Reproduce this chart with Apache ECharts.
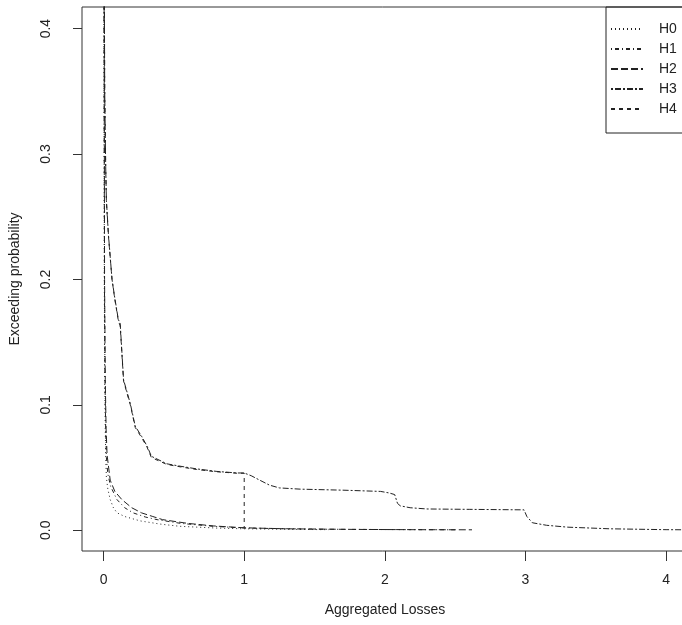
<!DOCTYPE html>
<html>
<head>
<meta charset="utf-8">
<script src="https://cdn.jsdelivr.net/npm/echarts@6/dist/echarts.min.js"></script>
<style>html,body{margin:0;padding:0;background:#fff}#c{width:682px;height:625px}</style>
</head>
<body>
<div id="c"></div>
<script>
const seriesNames = ['H0', 'H1', 'H2', 'H3', 'H4'];
const xTicks = [0, 1, 2, 3, 4];
const yTicks = [0, 0.1, 0.2, 0.3, 0.4];

const h0X = [0.0, 0.001, 0.005, 0.008, 0.012, 0.016, 0.02, 0.03, 0.047, 0.07, 0.095, 0.15, 0.26, 0.4, 0.54, 0.8, 1.0, 1.3, 1.6];
const h0Y = [1.0, 0.6, 0.2, 0.12, 0.08, 0.055, 0.042, 0.033, 0.0245, 0.018, 0.014, 0.011, 0.0075, 0.005, 0.0032, 0.0018, 0.0012, 0.0008, 0.0005];

const h1X = [0.0, 0.001, 0.006, 0.01, 0.015, 0.02, 0.03, 0.05, 0.095, 0.15, 0.21, 0.3, 0.38, 0.55, 0.78, 1.0, 1.5, 2.0, 2.5];
const h1Y = [1.0, 0.6, 0.2, 0.12, 0.08, 0.058, 0.045, 0.035, 0.0245, 0.018, 0.0139, 0.0105, 0.0085, 0.0055, 0.0032, 0.0018, 0.0009, 0.0006, 0.0004];

const h2X = [0.0, 0.001, 0.007, 0.012, 0.018, 0.025, 0.047, 0.08, 0.13, 0.2, 0.27, 0.35, 0.42, 0.6, 0.78, 1.0, 1.3, 1.8, 2.2, 2.62];
const h2Y = [1.0, 0.6, 0.2, 0.12, 0.08, 0.06, 0.04, 0.031, 0.0245, 0.018, 0.0139, 0.011, 0.0085, 0.0055, 0.0035, 0.002, 0.0012, 0.0007, 0.0005, 0.0004];

const h3X = [0.0, 0.003, 0.008, 0.015, 0.02, 0.035, 0.06, 0.08, 0.105, 0.118, 0.142, 0.19, 0.225, 0.27, 0.31, 0.34, 0.45, 0.55, 0.66, 0.8, 0.95, 1.0, 1.05, 1.11, 1.18, 1.25, 1.4, 1.7, 1.97, 2.03, 2.07, 2.09, 2.11, 2.18, 2.3, 2.6, 2.99, 3.01, 3.05, 3.15, 3.3, 3.6, 4.0, 4.3];
const h3Y = [1.0, 0.5, 0.35, 0.29, 0.263, 0.235, 0.2, 0.185, 0.168, 0.165, 0.12, 0.101, 0.083, 0.075, 0.067, 0.059, 0.053, 0.051, 0.049, 0.047, 0.0457, 0.0457, 0.0435, 0.04, 0.036, 0.0338, 0.0328, 0.032, 0.031, 0.0298, 0.0285, 0.0215, 0.0195, 0.018, 0.017, 0.0167, 0.0163, 0.011, 0.006, 0.004, 0.0025, 0.0012, 0.0005, 0.0003];

const h4X = [0.0, 0.003, 0.008, 0.015, 0.02, 0.035, 0.06, 0.08, 0.105, 0.118, 0.142, 0.19, 0.225, 0.27, 0.31, 0.34, 0.45, 0.55, 0.66, 0.8, 0.95, 1.0, 1.0];
const h4Y = [1.0, 0.5, 0.35, 0.29, 0.262, 0.234, 0.2, 0.184, 0.167, 0.163, 0.119, 0.1, 0.082, 0.074, 0.066, 0.058, 0.0525, 0.0505, 0.0485, 0.0467, 0.0455, 0.0455, 0.002];

const dashes = [[1, 3], [1, 3, 4, 3], [7, 3], [2, 2, 6, 2], [4, 4]];
const allX = [h0X, h1X, h2X, h3X, h4X];
const allY = [h0Y, h1Y, h2Y, h3Y, h4Y];

const font = 'Liberation Sans, Arial, Helvetica, sans-serif';
const chart = echarts.init(document.getElementById('c'), null, {renderer: 'canvas'});
chart.setOption({
  animation: false,
  backgroundColor: '#fff',
  grid: {left: 82, top: 7, right: -6, bottom: 74, show: true, borderColor: '#333', borderWidth: 1,
         backgroundColor: 'transparent', containLabel: false, outerBoundsMode: 'none'},
  xAxis: {
    type: 'value', min: -0.1535, max: 4.156,
    name: 'Aggregated Losses', nameLocation: 'middle', nameGap: 52,
    nameTextStyle: {fontFamily: font, fontSize: 14, color: '#222'},
    splitLine: {show: false},
    axisLine: {show: false, onZero: false},
    axisTick: {show: true, length: 10, lineStyle: {color: '#333'}, customValues: xTicks},
    axisLabel: {fontFamily: font, fontSize: 14, color: '#222', margin: 22, customValues: xTicks, formatter: v => String(v)}
  },
  yAxis: {
    type: 'value', min: -0.0165, max: 0.4172,
    name: 'Exceeding probability', nameLocation: 'middle', nameGap: 60,
    nameTextStyle: {fontFamily: font, fontSize: 14, color: '#222'},
    splitLine: {show: false},
    axisLine: {show: false, onZero: false},
    axisTick: {show: true, length: 9, lineStyle: {color: '#333'}, customValues: yTicks},
    axisLabel: {fontFamily: font, fontSize: 14, color: '#222', margin: 29, rotate: 90, customValues: yTicks, formatter: v => v.toFixed(1)}
  },
  legend: {
    orient: 'vertical', left: 606, top: 7,
    data: seriesNames,
    itemWidth: 32, itemHeight: 14, itemGap: 6,
    padding: [15, 30, 17, 4],
    borderColor: '#222', borderWidth: 1,
    itemStyle: {opacity: 0},
    textStyle: {fontFamily: font, fontSize: 14, color: '#222', padding: [0, 0, 0, 11]}
  },
  series: seriesNames.map((n, i) => ({
    name: n, type: 'line', showSymbol: false, symbol: 'none', clip: true,
    data: allX[i].map((x, j) => [x, allY[i][j]]),
    lineStyle: {color: '#222', width: 1, type: dashes[i]},
    itemStyle: {color: '#222'}
  }))
});
</script>
</body>
</html>
